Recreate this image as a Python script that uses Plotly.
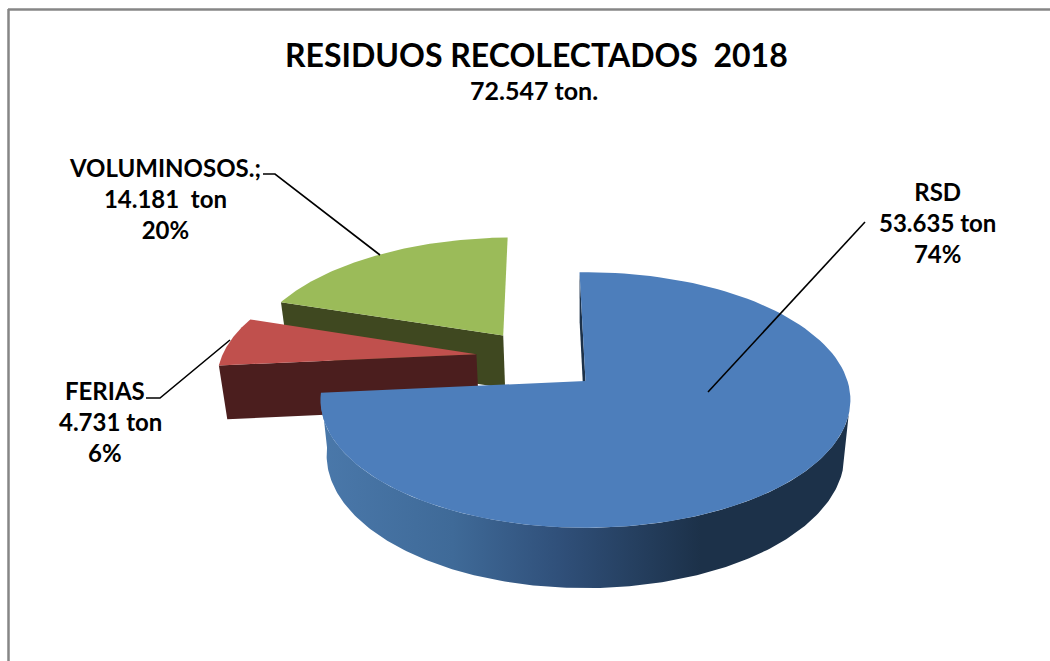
import numpy as np
import plotly.graph_objects as go

# --- data ---
categories = ["RSD", "FERIAS", "VOLUMINOSOS"]
tonnes = [53635, 4731, 14181]
label_lines = [
    "RSD<br>53.635 ton<br>74%",
    "FERIAS&nbsp;&nbsp;<br>4.731 ton<br>6%&nbsp;&nbsp;",
    "VOLUMINOSOS.;<br>14.181  ton<br>20%",
]
title_text = "RESIDUOS RECOLECTADOS  2018"
subtitle_text = "72.547 ton."

# --- styles / layout constants (pixels of a 1050x661 canvas) ---
top_colors = ["#4d7ebb", "#c0504d", "#9bbb59"]
side_colors = ["#1c3149", "#4b1e1e", "#3f4820"]
explode = [(0.0, 0.0), (-0.43, 0.22), (-0.332, 0.385)]
start_deg = -1.5
CX, CY_TOP, CY_BOT = 585.5, 381.0, 435.5
C_TOP, C_BOT = 262.0, 256.0
A_TOP, A_BOT = 125.0, 130.0
PERSP = 0.1484
label_pos = [(937, 222), (110, 421), (165, 198)]
leaders = [
    [(865, 222), (708, 392)],
    [(146, 398), (160, 398), (230, 340)],
    [(263, 174), (275, 174), (380, 255)],
]


def project(u, v, bottom=False):
    cx, cy, c, a = (CX, CY_BOT, C_BOT, A_BOT) if bottom else (CX, CY_TOP, C_TOP, A_TOP)
    d = 1 + PERSP * v
    return cx + c * u / d, cy - a * v / d


def rim(theta_deg, off, bottom=False):
    t = np.radians(theta_deg)
    return project(off[0] + np.sin(t), off[1] + np.cos(t), bottom)


total = sum(tonnes)
edges = start_deg + 360 * np.cumsum([0] + tonnes) / total

fig = go.Figure()


def poly(x, y, color, name, **kw):
    fig.add_trace(go.Scatter(x=np.asarray(x), y=np.asarray(y), mode="lines", fill="toself",
                             fillcolor=color, line=dict(width=0), name=name,
                             hoverinfo="name", showlegend=False, **kw))


def inner_face(i, theta):
    off = explode[i]
    ax, ay = project(off[0], off[1])
    bx, by = project(off[0], off[1], True)
    rx, ry = rim(theta, off)
    sx, sy = rim(theta, off, True)
    poly([ax, rx, sx, bx, ax], [ay, ry, sy, by, ay], side_colors[i], categories[i] + " lado")


def top_face(i):
    off = explode[i]
    th = np.linspace(edges[i], edges[i + 1], 120)
    rx, ry = rim(th, off)
    ax, ay = project(off[0], off[1])
    poly(np.r_[ax, rx, ax], np.r_[ay, ry, ay], top_colors[i], categories[i])


# green slice (back), red slice, then blue main slice
inner_face(2, edges[2])
top_face(2)
inner_face(1, edges[1])
top_face(1)
inner_face(0, edges[0])

th = np.linspace(105, edges[1], 200)
tx, ty = rim(th, explode[0])
bx, by = rim(th, explode[0], True)
fig.add_trace(go.Scatter(
    x=np.r_[tx, bx[::-1], tx[0]], y=np.r_[ty, by[::-1], ty[0]], mode="lines", fill="toself",
    line=dict(width=0), name="RSD lado", hoverinfo="name", showlegend=False,
    fillgradient=dict(type="horizontal", colorscale=[
        [0.0, "#4a78aa"], [0.25, "#3f6a98"], [0.45, "#30507a"], [0.72, "#1c3149"], [1.0, "#1c3149"]]),
))
top_face(0)

shapes = [
    dict(type="line", x0=8.5, x1=8.5, y0=9, y1=661, line=dict(color="#868686", width=2.5)),
    dict(type="line", x0=8, x1=1050, y0=9.5, y1=9.5, line=dict(color="#868686", width=2.5)),
]
for pts in leaders:
    path = "M " + " L ".join(f"{x} {y}" for x, y in pts)
    shapes.append(dict(type="path", path=path, line=dict(color="#000000", width=1.6)))

annotations = [
    dict(x=536, y=54, text=title_text, font=dict(size=32, family="Lato", color="#000000", weight="bold")),
    dict(x=534, y=90, text=subtitle_text, font=dict(size=25, family="Lato", color="#000000", weight="bold")),
]
for text, (x, y) in zip(label_lines, label_pos):
    annotations.append(dict(x=x, y=y, text=text, font=dict(size=24, family="Lato", color="#000000", weight="bold")))
for a in annotations:
    a.update(xref="x", yref="y", showarrow=False, align="center", xanchor="center", yanchor="middle")

fig.update_layout(
    width=1050, height=661, margin=dict(l=0, r=0, t=0, b=0),
    paper_bgcolor="#ffffff", plot_bgcolor="#ffffff", showlegend=False,
    xaxis=dict(range=[0, 1050], visible=False, fixedrange=True),
    yaxis=dict(range=[661, 0], visible=False, fixedrange=True),
    shapes=shapes, annotations=annotations,
)
fig.write_html("out.html", config=dict(displayModeBar=False),
               post_script="document.body.style.margin='0';document.documentElement.style.overflow='hidden';")
